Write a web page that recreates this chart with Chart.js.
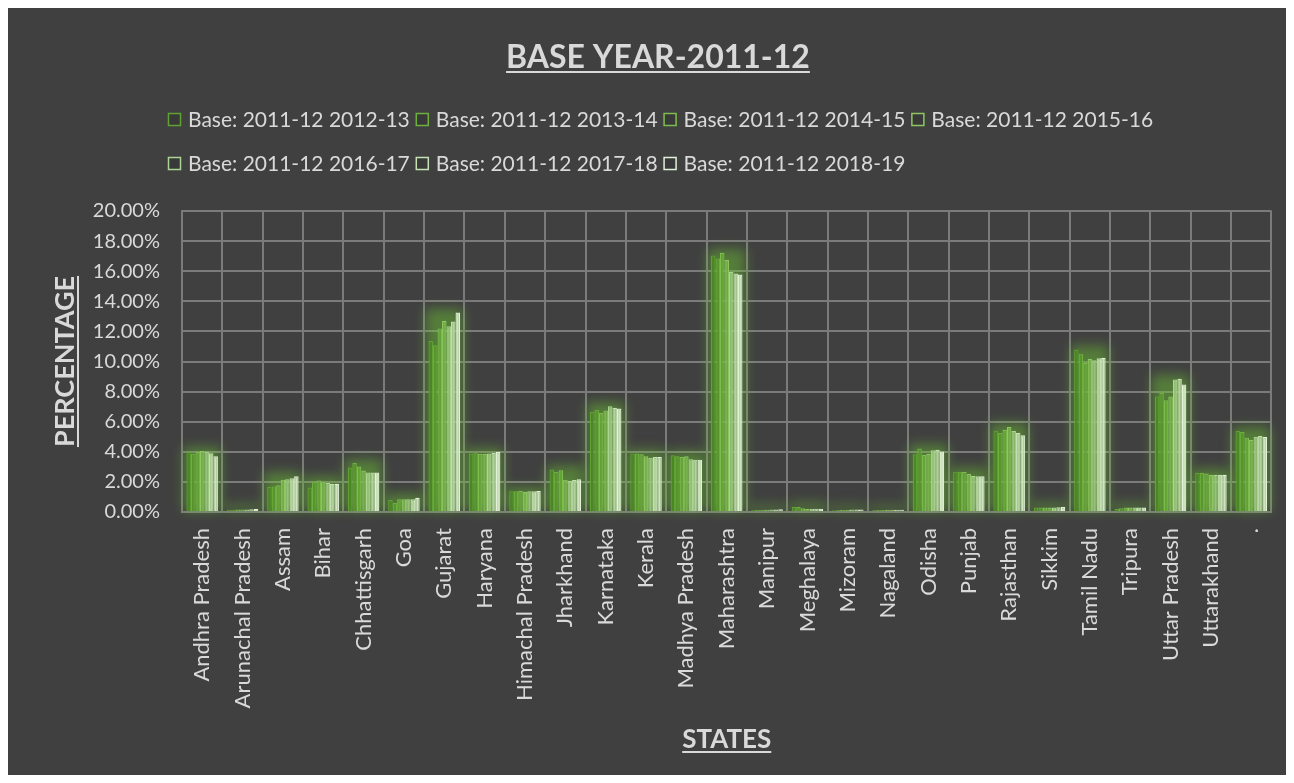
<!DOCTYPE html>
<html>
<head>
<meta charset="utf-8">
<script src="https://cdn.jsdelivr.net/npm/chart.js@4.4.1/dist/chart.umd.min.js"></script>
<style>
  html, body { margin: 0; padding: 0; background: #ffffff; }
  #wrap { position: absolute; left: 0; top: 0; width: 1294px; height: 783px; }
</style>
</head>
<body>
<div id="wrap"><canvas id="c"></canvas></div>
<script>
// ---------- DATA ----------
const categories = ["Andhra Pradesh","Arunachal Pradesh","Assam","Bihar","Chhattisgarh","Goa","Gujarat","Haryana","Himachal Pradesh","Jharkhand","Karnataka","Kerala","Madhya Pradesh","Maharashtra","Manipur","Meghalaya","Mizoram","Nagaland","Odisha","Punjab","Rajasthan","Sikkim","Tamil Nadu","Tripura","Uttar Pradesh","Uttarakhand","."];

const seriesLabels = ["Base: 2011-12 2012-13","Base: 2011-12 2013-14","Base: 2011-12 2014-15","Base: 2011-12 2015-16","Base: 2011-12 2016-17","Base: 2011-12 2017-18","Base: 2011-12 2018-19"];

const y2012_13 = [3.98,0.15,1.66,1.62,2.95,0.80,11.37,3.88,1.38,2.82,6.65,3.88,3.77,17.05,0.15,0.33,0.12,0.13,3.83,2.68,5.42,0.30,10.80,0.20,7.68,2.60,5.38];
const y2013_14 = [3.85,0.15,1.70,2.00,3.25,0.60,11.08,3.90,1.38,2.66,6.80,3.88,3.70,16.85,0.15,0.33,0.13,0.13,4.22,2.68,5.25,0.30,10.52,0.25,7.90,2.60,5.32];
const y2014_15 = [4.00,0.16,1.78,2.10,3.02,0.85,12.20,3.85,1.40,2.77,6.58,3.83,3.65,17.22,0.15,0.25,0.14,0.14,3.78,2.66,5.47,0.30,9.90,0.30,7.42,2.55,4.94];
const y2015_16 = [4.05,0.17,2.15,1.98,2.75,0.85,12.70,3.85,1.35,2.15,6.75,3.70,3.70,16.75,0.15,0.20,0.15,0.15,3.85,2.52,5.65,0.30,10.18,0.30,7.68,2.48,4.80];
const y2016_17 = [4.02,0.17,2.18,1.92,2.62,0.85,12.35,3.88,1.38,2.07,7.02,3.61,3.50,15.95,0.16,0.22,0.16,0.15,4.10,2.40,5.38,0.30,10.08,0.30,8.80,2.48,4.98];
const y2017_18 = [3.90,0.18,2.25,1.88,2.62,0.85,12.65,3.92,1.38,2.13,6.93,3.65,3.48,15.85,0.17,0.22,0.16,0.15,4.13,2.38,5.27,0.32,10.22,0.30,8.85,2.48,5.05];
const y2018_19 = [3.70,0.20,2.38,1.88,2.62,0.95,13.25,3.98,1.40,2.18,6.87,3.65,3.48,15.78,0.18,0.22,0.16,0.15,4.02,2.38,5.10,0.33,10.25,0.30,8.48,2.48,4.98];

const yTickValues = [0,2,4,6,8,10,12,14,16,18,20];

const chartTitle = "BASE YEAR-2011-12";
const yTitle = "PERCENTAGE";
const xTitle = "STATES";

// ---------- STYLE ----------
const fills   = ['#4b8724','#58972c','#66a537','#77b14b','#95c377','#b2d49c','#cde4bf'];
const borders = ['#5fa233','#6eb03e','#7dbd4d','#8ec761','#acd492','#c5e1b3','#e2f1d8'];
const TEXT = '#d9d9d9';
const GRID = '#7b7b7b';
const FONT = 'Lato';

const allSeries = [y2012_13,y2013_14,y2014_15,y2015_16,y2016_17,y2017_18,y2018_19];
const datasets = allSeries.map((d, i) => ({
  label: seriesLabels[i],
  data: d,
  backgroundColor: fills[i],
  borderColor: borders[i],
  borderWidth: 1.2,
  categoryPercentage: 0.78,
  barPercentage: 1.0
}));

function underlinedText(ctx, text, x, y, font) {
  ctx.font = font;
  ctx.textAlign = 'center';
  ctx.textBaseline = 'alphabetic';
  ctx.fillText(text, x, y);
  const w = ctx.measureText(text).width;
  ctx.fillRect(x - w / 2, y + 3, w, 2);
}

const decor = {
  id: 'decor',
  beforeDraw(chart) {
    const ctx = chart.ctx;
    ctx.save();
    ctx.fillStyle = '#ffffff';
    ctx.fillRect(0, 0, chart.width, chart.height);
    ctx.fillStyle = '#404040';
    ctx.fillRect(8, 8, chart.width - 16, chart.height - 16);
    ctx.restore();
  },
  beforeDatasetsDraw(chart) {
    // soft green glow behind each group of bars
    const ctx = chart.ctx;
    const metaFirst = chart.getDatasetMeta(0);
    const metaLast = chart.getDatasetMeta(chart.data.datasets.length - 1);
    ctx.save();
    ctx.filter = 'blur(6px)';
    ctx.fillStyle = 'rgba(110, 200, 50, 0.45)';
    metaFirst.data.forEach((bar, j) => {
      let top = Infinity;
      chart.data.datasets.forEach((ds, k) => {
        const b = chart.getDatasetMeta(k).data[j];
        if (b.y < top) top = b.y;
      });
      const l = bar.x - bar.width / 2 - 3;
      const r = metaLast.data[j].x + metaLast.data[j].width / 2 + 3;
      ctx.fillRect(l, top - 4, r - l, bar.base - top + 4);
    });
    ctx.restore();
  },
  afterDraw(chart) {
    const ctx = chart.ctx;
    const area = chart.chartArea;
    ctx.save();
    ctx.fillStyle = TEXT;
    // chart title
    underlinedText(ctx, chartTitle, 658, 68, 'bold 32px ' + FONT);
    // x title
    underlinedText(ctx, xTitle, (area.left + area.right) / 2, 748, 'bold 26px ' + FONT);
    // y title
    ctx.save();
    ctx.translate(74, (area.top + area.bottom) / 2);
    ctx.rotate(-Math.PI / 2);
    underlinedText(ctx, yTitle, 0, 0, 'bold 27px ' + FONT);
    ctx.restore();

    // legend (two rows, left-aligned)
    ctx.font = '21px ' + FONT;
    ctx.textAlign = 'left';
    ctx.textBaseline = 'middle';
    const perRow = 4;
    const startX = 168;
    const rowY = [119, 163];
    const box = 12;
    let x = startX;
    seriesLabels.forEach((lab, i) => {
      const row = Math.floor(i / perRow);
      if (i % perRow === 0) x = startX;
      const y = rowY[row];
      ctx.fillStyle = 'rgba(0,0,0,0.1)';
      ctx.fillRect(x, y - box / 2, box, box);
      ctx.strokeStyle = borders[i];
      ctx.lineWidth = 1.5;
      ctx.strokeRect(x + 0.5, y - box / 2 + 0.5, box, box);
      ctx.fillStyle = TEXT;
      ctx.fillText(lab, x + box + 8, y + 1);
      x += box + 8 + ctx.measureText(lab).width + 6;
    });
    ctx.restore();
  }
};

new Chart(document.getElementById('c'), {
  type: 'bar',
  data: { labels: categories, datasets },
  plugins: [decor],
  options: {
    responsive: true,
    maintainAspectRatio: false,
    animation: false,
    layout: { padding: { top: 211, right: 16, left: 0, bottom: 0 } },
    plugins: {
      legend: { display: false },
      title: { display: false },
      tooltip: { enabled: false }
    },
    scales: {
      x: {
        offset: true,
        grid: { display: true, offset: true, color: GRID, lineWidth: 2, drawTicks: false },
        border: { display: true, color: GRID, width: 2 },
        ticks: {
          color: TEXT,
          font: { family: FONT, size: 22 },
          minRotation: 90,
          maxRotation: 90,
          autoSkip: false,
          padding: 16
        },
        afterFit(scale) { scale.height = 271; }
      },
      y: {
        min: 0,
        max: 20,
        afterBuildTicks(scale) { scale.ticks = yTickValues.map(v => ({ value: v })); },
        grid: { color: GRID, lineWidth: 2, drawTicks: false },
        border: { display: true, color: GRID, width: 2 },
        ticks: {
          color: TEXT,
          font: { family: FONT, size: 20 },
          padding: 22,
          callback: v => v.toFixed(2) + '%'
        },
        afterFit(scale) { scale.width = 182; }
      }
    }
  }
});
</script>
</body>
</html>
